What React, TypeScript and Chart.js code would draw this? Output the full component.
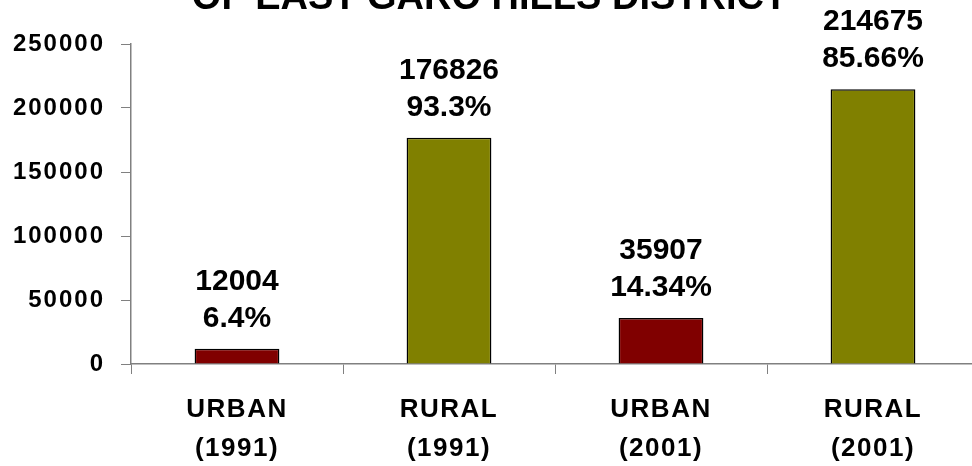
import React, { useEffect, useRef } from "react";
import { Chart, registerables } from "chart.js";

Chart.register(...registerables);

const titleText = "OF EAST GARO HILLS DISTRICT";
const categoryNames = ["URBAN", "RURAL", "URBAN", "RURAL"];
const categoryYears = ["(1991)", "(1991)", "(2001)", "(2001)"];
const populations = [12004, 176826, 35907, 214675];
const shares = ["6.4%", "93.3%", "14.34%", "85.66%"];
const barColors = ["#800000", "#808000", "#800000", "#808000"];
const yTickMax = 250000;
const yTickStep = 50000;

const FONT = '"Liberation Sans", Arial, sans-serif';

const valueLabels = {
  id: "valueLabels",
  afterDatasetsDraw(chart: any) {
    const ctx = chart.ctx;
    const meta = chart.getDatasetMeta(0);
    ctx.save();
    ctx.font = `bold 30px ${FONT}`;
    ctx.fillStyle = "#000";
    ctx.textAlign = "center";
    ctx.textBaseline = "middle";
    meta.data.forEach((bar: any, i: number) => {
      ctx.fillText(String(populations[i]), bar.x, bar.y - 67);
      ctx.fillText(shares[i], bar.x, bar.y - 30);
    });
    ctx.restore();
  },
};

function withSpacing(scale: any, spacing: string) {
  if (scale.__spaced) return;
  scale.__spaced = true;
  const orig = scale.drawLabels;
  scale.drawLabels = function (area: any) {
    const ctx = this.ctx;
    ctx.save();
    (ctx as any).letterSpacing = spacing;
    orig.call(this, area);
    ctx.restore();
  };
}

export default function App() {
  const ref = useRef<HTMLCanvasElement>(null);
  useEffect(() => {
    if (!ref.current) return;
    const labels = categoryNames.map((n, i) => [n, categoryYears[i]]);
    const chart = new Chart(ref.current, {
      type: "bar",
      data: {
        labels,
        datasets: [
          {
            data: populations,
            backgroundColor: barColors,
            borderColor: "#000",
            borderWidth: 1.5,
            barPercentage: 0.4,
            categoryPercentage: 1,
          },
        ],
      },
      options: {
        responsive: false,
        animation: false,
        devicePixelRatio: 1,
        layout: { padding: { left: 0, right: 1, top: 0, bottom: 0 } },
        plugins: {
          legend: { display: false },
          tooltip: { enabled: false },
          title: {
            display: true,
            text: titleText,
            color: "#000",
            font: { family: FONT, size: 38, weight: "bold", lineHeight: 0.9 },
            padding: { top: 1, bottom: 28.8 },
          },
        },
        scales: {
          x: {
            grid: {
              offset: true,
              drawOnChartArea: false,
              drawTicks: true,
              tickLength: 10,
              color: "#808080",
            },
            border: { color: "#808080", width: 1.5 },
            ticks: {
              color: "#000",
              font: { family: FONT, size: 26, weight: "bold", lineHeight: 1.5 },
              padding: 16,
              maxRotation: 0,
            },
            afterFit: (s: any) => {
              s.height = 102;
              withSpacing(s, "1.5px");
            },
          },
          y: {
            min: 0,
            max: yTickMax,
            grid: {
              drawOnChartArea: false,
              drawTicks: true,
              tickLength: 10,
              color: "#808080",
            },
            border: { color: "#808080", width: 1.5 },
            ticks: {
              stepSize: yTickStep,
              color: "#000",
              font: { family: FONT, size: 24, weight: "bold" },
              padding: 16,
              callback: (v: any) => String(v),
            },
            afterFit: (s: any) => {
              s.width = 131;
              withSpacing(s, "2px");
            },
          },
        },
      },
      plugins: [valueLabels],
    });
    return () => chart.destroy();
  }, []);

  return (
    <div
      style={{
        position: "fixed",
        left: 0,
        top: 0,
        width: 972,
        height: 466,
        overflow: "hidden",
        background: "#fff",
      }}
    >
      <div style={{ position: "absolute", left: 0, top: -20, width: 980, height: 486 }}>
        <canvas ref={ref} width={980} height={486} />
      </div>
    </div>
  );
}
